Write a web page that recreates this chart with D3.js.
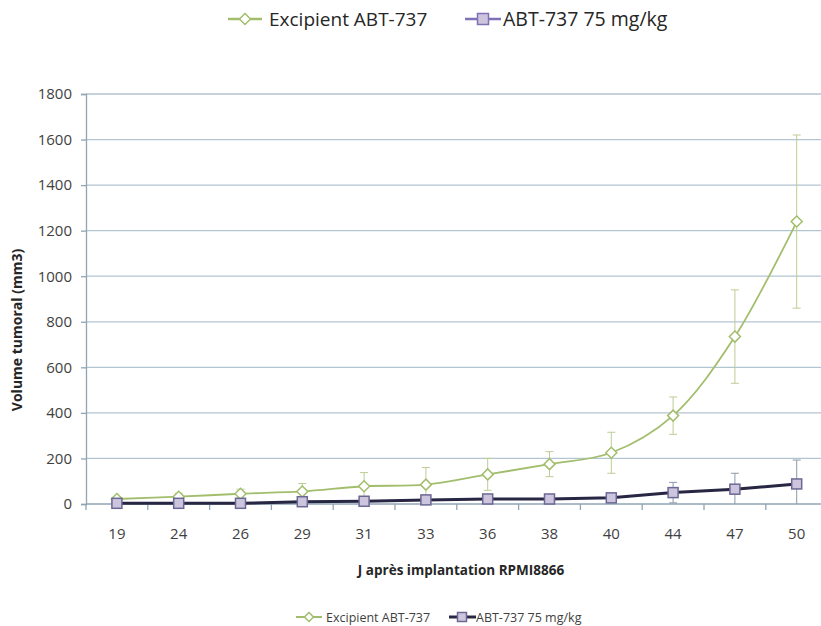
<!DOCTYPE html>
<html>
<head>
<meta charset="utf-8">
<script src="https://cdn.jsdelivr.net/npm/d3@7"></script>
<style>
  body { margin: 0; background: #fff; }
  svg { font-family: "Open Sans", "Liberation Sans", sans-serif; }
</style>
</head>
<body>
<div id="chart-area"></div>
<script>
// days after implantation
var days = ["19", "24", "26", "29", "31", "33", "36", "38", "40", "44", "47", "50"];
// Excipient ABT-737
var excipient = [22, 32, 45, 55, 78, 85, 130, 175, 225, 388, 735, 1240];
var excipientErr = [10, 15, 20, 35, 60, 75, 70, 55, 90, 82, 205, 380];
// ABT-737 75 mg/kg
var abt = [3, 3, 3, 10, 12, 18, 22, 22, 27, 50, 65, 88];
var abtErr = [3, 3, 3, 5, 6, 8, 10, 8, 10, 45, 70, 105];
var yTicks = [0, 200, 400, 600, 800, 1000, 1200, 1400, 1600, 1800];

var W = 821, H = 626;
var plotLeft = 86, plotTop = 94, plotBottom = 504;
var bandW = 61.8;

var svg = d3.select("#chart-area").append("svg")
    .attr("width", W)
    .attr("height", H);

var x = d3.scaleBand()
    .domain(days)
    .range([plotLeft, plotLeft + bandW * days.length]);

var y = d3.scaleLinear()
    .domain([0, 1800])
    .range([plotBottom, plotTop]);

var gridColor = "#b3c5d1";
var axisColor = "#8fa5b4";

// gridlines
svg.append("g")
    .selectAll("line")
    .data(yTicks.slice(1))
    .enter().append("line")
    .attr("x1", plotLeft).attr("x2", W)
    .attr("y1", d => y(d)).attr("y2", d => y(d))
    .attr("stroke", gridColor)
    .attr("stroke-width", 1.3);

// y axis
var yAxis = svg.append("g")
    .attr("transform", "translate(" + plotLeft + ",0)")
    .call(d3.axisLeft(y).tickValues(yTicks).tickFormat(d3.format("d")).tickSize(5).tickPadding(9));
yAxis.select(".domain").attr("stroke", axisColor).attr("stroke-width", 1.3);
yAxis.selectAll(".tick line").attr("stroke", axisColor).attr("stroke-width", 1.3);
yAxis.selectAll("text").attr("font-size", 15).attr("fill", "#3f3f3f")
    .attr("font-family", "'Open Sans', sans-serif");

// x axis
var xAxis = svg.append("g")
    .attr("transform", "translate(0," + plotBottom + ")")
    .call(d3.axisBottom(x).tickSize(0).tickPadding(24));
xAxis.select(".domain").remove();
xAxis.selectAll("text").attr("font-size", 15).attr("fill", "#3f3f3f")
    .attr("font-family", "'Open Sans', sans-serif");
svg.append("line")
    .attr("x1", plotLeft).attr("x2", W)
    .attr("y1", plotBottom).attr("y2", plotBottom)
    .attr("stroke", axisColor).attr("stroke-width", 1.3);
svg.append("g")
    .selectAll("line")
    .data(days)
    .enter().append("line")
    .attr("x1", d => x(d)).attr("x2", d => x(d))
    .attr("y1", plotBottom).attr("y2", plotBottom + 6)
    .attr("stroke", axisColor).attr("stroke-width", 1.3);

// axis titles
svg.append("text")
    .attr("transform", "translate(22,330) rotate(-90)")
    .attr("text-anchor", "middle")
    .attr("font-size", 14)
    .attr("font-weight", "bold")
    .attr("fill", "#262626")
    .text("Volume tumoral (mm3)");

svg.append("text")
    .attr("x", 461)
    .attr("y", 575)
    .attr("text-anchor", "middle")
    .attr("font-size", 13.5)
    .attr("font-weight", "bold")
    .attr("fill", "#262626")
    .text("J après implantation RPMI8866");

var cx = d => x(d) + x.bandwidth() / 2;
var green = "#a2be6c";
var purpleLine = "#272643";

function errorBars(values, errs, color) {
    var g = svg.append("g");
    values.forEach(function (v, i) {
        var xc = cx(days[i]);
        var y1 = y(v + errs[i]), y0 = y(Math.max(0, v - errs[i]));
        g.append("line").attr("x1", xc).attr("x2", xc).attr("y1", y1).attr("y2", y0)
            .attr("stroke", color).attr("stroke-width", 1);
        g.append("line").attr("x1", xc - 4).attr("x2", xc + 4).attr("y1", y1).attr("y2", y1)
            .attr("stroke", color).attr("stroke-width", 1);
        if (v - errs[i] > 0) {
            g.append("line").attr("x1", xc - 4).attr("x2", xc + 4).attr("y1", y0).attr("y2", y0)
                .attr("stroke", color).attr("stroke-width", 1);
        }
    });
}

errorBars(excipient, excipientErr, "#bccd94");
errorBars(abt, abtErr, "#8c9aa8");

var line = d3.line()
    .x((d, i) => cx(days[i]))
    .y(d => y(d));

// excipient series (smoothed like the original)
svg.append("path")
    .datum(excipient)
    .attr("fill", "none")
    .attr("stroke", green)
    .attr("stroke-width", 1.8)
    .attr("d", line.curve(d3.curveCatmullRom.alpha(0.5)));
line.curve(d3.curveLinear);

function diamond(g, xc, yc, r) {
    g.append("path")
        .attr("d", "M" + xc + "," + (yc - r) + "L" + (xc + r) + "," + yc + "L" + xc + "," + (yc + r) + "L" + (xc - r) + "," + yc + "Z")
        .attr("fill", "#fff")
        .attr("stroke", green)
        .attr("stroke-width", 1.5);
}
var dg = svg.append("g");
excipient.forEach((v, i) => diamond(dg, cx(days[i]), y(v), 5.5));

// ABT-737 series
svg.append("path")
    .datum(abt)
    .attr("fill", "none")
    .attr("stroke", purpleLine)
    .attr("stroke-width", 3)
    .attr("d", line);

function square(g, xc, yc, s, stroke) {
    g.append("rect")
        .attr("x", xc - s / 2).attr("y", yc - s / 2)
        .attr("width", s).attr("height", s)
        .attr("fill", "#cdc4de")
        .attr("stroke", stroke)
        .attr("stroke-width", 1.5);
}
var sg = svg.append("g");
abt.forEach((v, i) => square(sg, cx(days[i]), y(v), 10, "#6b6894"));

// top legend
var lt = svg.append("g");
lt.append("line").attr("x1", 228).attr("x2", 262).attr("y1", 19).attr("y2", 19)
    .attr("stroke", green).attr("stroke-width", 2.5);
diamond(lt, 245, 19, 5.5);
lt.append("text").attr("x", 269).attr("y", 26).attr("font-size", 19).attr("fill", "#262626")
    .text("Excipient ABT-737");
lt.append("line").attr("x1", 465).attr("x2", 501).attr("y1", 19).attr("y2", 19)
    .attr("stroke", "#8070b8").attr("stroke-width", 2.5);
square(lt, 483, 19, 11, "#8070b8");
lt.append("text").attr("x", 503).attr("y", 26).attr("font-size", 19.5).attr("fill", "#262626")
    .text("ABT-737 75 mg/kg");

// bottom legend
var lb = svg.append("g");
lb.append("line").attr("x1", 296).attr("x2", 322).attr("y1", 617).attr("y2", 617)
    .attr("stroke", green).attr("stroke-width", 2);
diamond(lb, 309, 617, 4.5);
lb.append("text").attr("x", 326).attr("y", 622).attr("font-size", 12.5).attr("fill", "#3f3f3f")
    .text("Excipient ABT-737");
lb.append("line").attr("x1", 449).attr("x2", 476).attr("y1", 617).attr("y2", 617)
    .attr("stroke", purpleLine).attr("stroke-width", 3);
square(lb, 462, 617, 9, "#6b6894");
lb.append("text").attr("x", 476).attr("y", 622).attr("font-size", 12.5).attr("fill", "#3f3f3f")
    .text("ABT-737 75 mg/kg");
</script>
</body>
</html>
